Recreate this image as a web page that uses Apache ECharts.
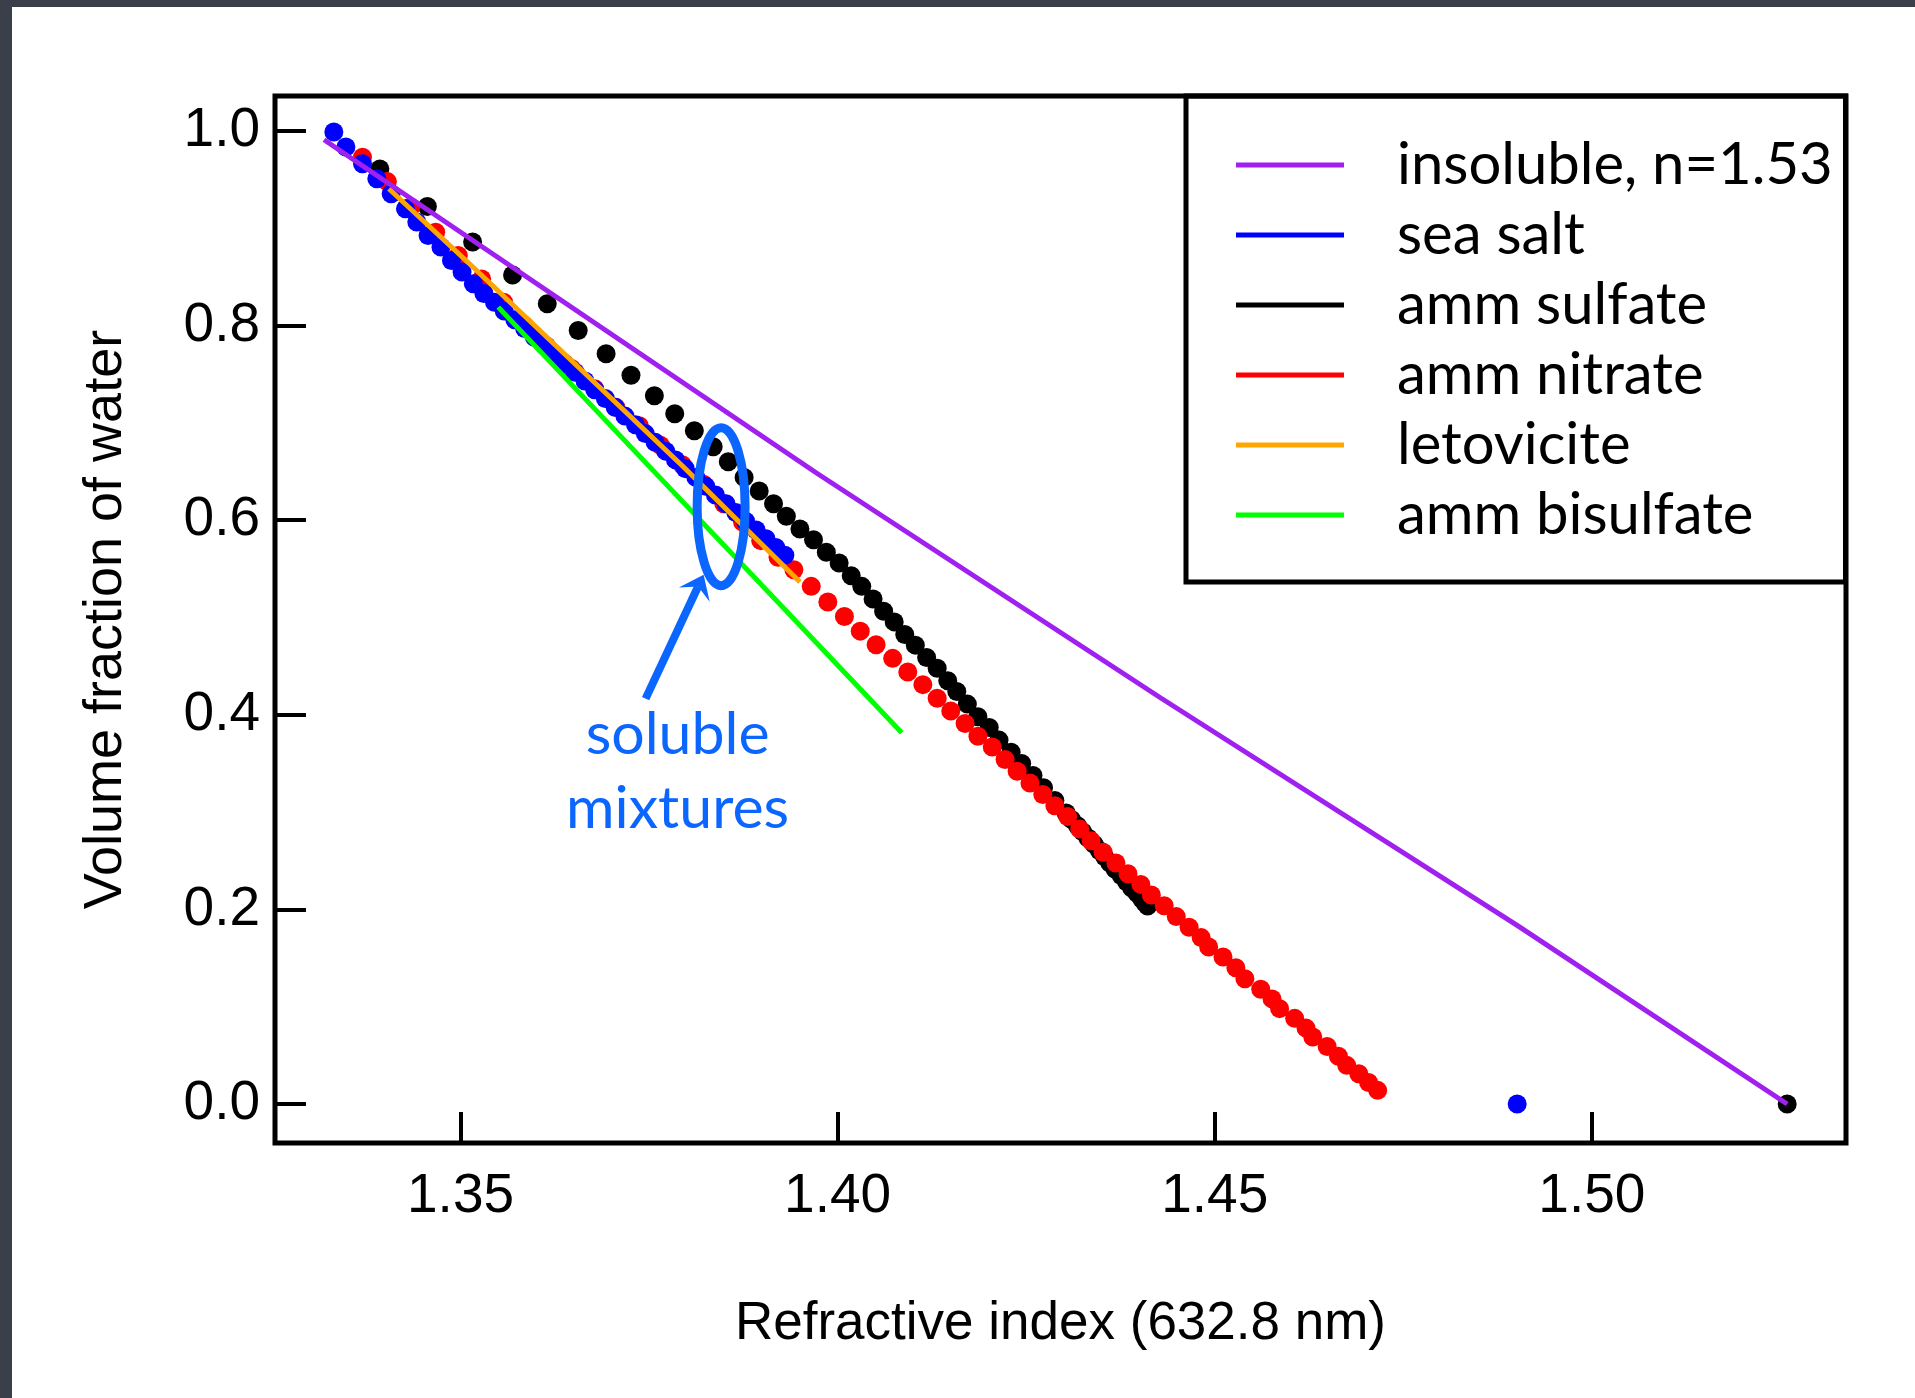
<!DOCTYPE html>
<html>
<head>
<meta charset="utf-8">
<script src="https://cdn.jsdelivr.net/npm/echarts@6/dist/echarts.min.js"></script>
<style>
html, body { margin: 0; padding: 0; width: 1915px; height: 1398px; overflow: hidden; background: #3a3f4a; }
#panel { position: absolute; left: 12px; top: 7px; right: 0; bottom: 0; background: #fff; }
#main { position: absolute; left: 0; top: 0; width: 1915px; height: 1398px; }
</style>
</head>
<body>
<div id="panel"></div>
<div id="main"></div>
<script>
// axis ticks
var xTicks = [1.35, 1.40, 1.45, 1.50];
var yTicks = [0.0, 0.2, 0.4, 0.6, 0.8, 1.0];

// legend order
var names = ['insoluble, n=1.53', 'sea salt', 'amm sulfate', 'amm nitrate', 'letovicite', 'amm bisulfate'];

// [refractive index, volume fraction of water]
var insoluble = [[1.3319, 0.991], [1.3973, 0.648], [1.4429, 0.417], [1.4901, 0.1836], [1.5259, 0.0]];

var seaSalt = [
    [1.3332, 0.999], [1.3348, 0.9835], [1.3370, 0.9664], [1.3389, 0.951], [1.3408, 0.9355],
    [1.3427, 0.920], [1.3442, 0.9065], [1.3457, 0.8927], [1.3474, 0.8808], [1.3488, 0.867],
    [1.3502, 0.855], [1.3517, 0.843], [1.3531, 0.833], [1.3545, 0.824], [1.3558, 0.815],
    [1.3572, 0.806], [1.3585, 0.797], [1.3598, 0.788], [1.3612, 0.779], [1.3625, 0.770],
    [1.3638, 0.761], [1.3652, 0.752], [1.3665, 0.743], [1.3678, 0.734], [1.3692, 0.725],
    [1.3705, 0.716], [1.3718, 0.707], [1.3732, 0.698], [1.3745, 0.689], [1.3758, 0.680],
    [1.3772, 0.671], [1.3785, 0.662], [1.3798, 0.653], [1.3812, 0.644], [1.3825, 0.635],
    [1.3838, 0.626], [1.3852, 0.617], [1.3865, 0.608], [1.3878, 0.599], [1.3892, 0.590],
    [1.3905, 0.581], [1.3918, 0.572], [1.3930, 0.564],
    [1.4901, 0.0]
];

var ammSulfate = [
    [1.3393, 0.961], [1.3456, 0.9225], [1.3516, 0.886], [1.3569, 0.852], [1.3615, 0.8225],
    [1.3656, 0.795], [1.3693, 0.771], [1.3726, 0.749], [1.3757, 0.728], [1.3784, 0.7095],
    [1.3810, 0.692], [1.3835, 0.6755], [1.3855, 0.660], [1.3876, 0.644], [1.3896, 0.630],
    [1.3915, 0.617], [1.3932, 0.604], [1.3950, 0.591], [1.3968, 0.580], [1.3985, 0.567],
    [1.4002, 0.556], [1.4018, 0.543], [1.4032, 0.532], [1.4047, 0.519], [1.4061, 0.5065],
    [1.4075, 0.4955], [1.4089, 0.4826], [1.4103, 0.4716], [1.4118, 0.4588], [1.4132, 0.4478],
    [1.4146, 0.435], [1.4158, 0.424], [1.4172, 0.411], [1.4186, 0.398], [1.4201, 0.387],
    [1.4214, 0.374], [1.4230, 0.3615], [1.4244, 0.350], [1.4259, 0.3376], [1.4273, 0.325],
    [1.4288, 0.312], [1.4303, 0.299], [1.4310, 0.2925], [1.4318, 0.286], [1.4325, 0.2797],
    [1.4332, 0.2734], [1.4340, 0.267], [1.4347, 0.2605], [1.4354, 0.254], [1.4361, 0.2477],
    [1.4368, 0.2412], [1.4376, 0.2348], [1.4383, 0.2284], [1.4390, 0.222], [1.4397, 0.2165],
    [1.4403, 0.211], [1.4407, 0.207], [1.4411, 0.2035],
    [1.5259, 0.0]
];

var ammNitrate = [
    [1.3370, 0.973], [1.3403, 0.948], [1.3434, 0.922], [1.3467, 0.896], [1.3497, 0.872],
    [1.3528, 0.848], [1.3557, 0.824], [1.3585, 0.800], [1.3614, 0.779], [1.3647, 0.756],
    [1.3678, 0.735], [1.3706, 0.716], [1.3737, 0.697], [1.3765, 0.677], [1.3794, 0.657],
    [1.3822, 0.637], [1.3849, 0.617], [1.3874, 0.598], [1.3898, 0.579], [1.3921, 0.562],
    [1.3942, 0.549], [1.3965, 0.532], [1.3987, 0.516], [1.4009, 0.501], [1.4030, 0.486],
    [1.4051, 0.472], [1.4073, 0.458], [1.4093, 0.444], [1.4113, 0.431], [1.4132, 0.417],
    [1.4150, 0.404], [1.4169, 0.391], [1.4186, 0.378], [1.4205, 0.367], [1.4222, 0.354],
    [1.4238, 0.342], [1.4255, 0.330], [1.4272, 0.318], [1.4288, 0.3065], [1.4305, 0.2954],
    [1.4321, 0.2825], [1.4336, 0.2705], [1.4352, 0.2587], [1.4369, 0.2477], [1.4385, 0.2367],
    [1.4402, 0.2257], [1.4416, 0.2147], [1.4433, 0.2037], [1.4449, 0.1926], [1.4466, 0.1816],
    [1.4482, 0.171], [1.4492, 0.1614], [1.4511, 0.151], [1.4528, 0.140], [1.4540, 0.1288],
    [1.4561, 0.118], [1.4576, 0.108], [1.4586, 0.098], [1.4606, 0.088], [1.4621, 0.078],
    [1.4630, 0.0689], [1.4649, 0.059], [1.4664, 0.049], [1.4675, 0.0397], [1.4691, 0.031],
    [1.4704, 0.022], [1.4716, 0.014]
];

var letovicite = [[1.3405, 0.9407], [1.3514, 0.862], [1.3794, 0.656], [1.3950, 0.5365]];
var ammBisulfate = [[1.3550, 0.819], [1.4085, 0.3816]];

// "soluble mixtures" callout, in data units
var ellipseBox = [[1.38137, 0.6951], [1.38773, 0.5327]];
var arrowTail = [1.37454, 0.4166];
var arrowTip = [1.38223, 0.5440];
var noteLines = [['soluble', [1.37878, 0.3796]], ['mixtures', [1.37878, 0.3036]]];

var calloutColor = '#0a66ff';
var axisFont = 'Liberation Sans, Arial, Helvetica, sans-serif';
var legendFont = 'Lato, sans-serif';

var myChart;

function start() {
    myChart = echarts.init(document.getElementById('main'), null, {renderer: 'canvas'});

    var option = {
        backgroundColor: 'transparent',
        animation: false,
        grid: {
            left: 275, top: 96, width: 1571, height: 1047,
            show: true, borderColor: '#000', borderWidth: 5, backgroundColor: 'transparent'
        },
        xAxis: {
            type: 'value',
            min: 1.3254, max: 1.5337,
            name: 'Refractive index (632.8 nm)',
            nameLocation: 'middle',
            nameGap: 155,
            nameTextStyle: {fontFamily: axisFont, fontSize: 53, color: '#000'},
            axisLine: {show: false, onZero: false},
            splitLine: {show: false},
            axisTick: {
                show: true, inside: true, length: 31,
                customValues: xTicks,
                lineStyle: {color: '#000', width: 4}
            },
            axisLabel: {
                customValues: xTicks,
                margin: 26,
                fontFamily: axisFont, fontSize: 55, color: '#000',
                formatter: function (v) { return v.toFixed(2); }
            }
        },
        yAxis: {
            type: 'value',
            min: -0.0401, max: 1.036,
            name: 'Volume fraction of water',
            nameLocation: 'middle',
            nameGap: 142,
            nameRotate: 90,
            nameTextStyle: {fontFamily: axisFont, fontSize: 54, color: '#000'},
            axisLine: {show: false, onZero: false},
            splitLine: {show: false},
            axisTick: {
                show: true, inside: true, length: 31,
                customValues: yTicks,
                lineStyle: {color: '#000', width: 4}
            },
            axisLabel: {
                customValues: yTicks,
                margin: 15,
                fontFamily: axisFont, fontSize: 55, color: '#000',
                formatter: function (v) { return v.toFixed(1); }
            }
        },
        legend: {
            data: names,
            orient: 'vertical',
            left: 1236, top: 131.5,
            padding: 0,
            itemWidth: 108, itemHeight: 5, itemGap: 3,
            icon: 'rect',
            selectedMode: false,
            textStyle: {fontFamily: legendFont, fontSize: 58, color: '#000', lineHeight: 60, padding: [7, 0, 0, 48]}
        },
        series: [
            {
                type: 'scatter', name: 'amm sulfate', data: ammSulfate,
                symbol: 'circle', symbolSize: 19, z: 2, silent: true,
                itemStyle: {color: '#000000', opacity: 1}
            },
            {
                type: 'scatter', name: 'amm nitrate', data: ammNitrate,
                symbol: 'circle', symbolSize: 19, z: 3, silent: true,
                itemStyle: {color: '#ff0000', opacity: 1}
            },
            {
                type: 'scatter', name: 'sea salt', data: seaSalt,
                symbol: 'circle', symbolSize: 19, z: 4, silent: true,
                itemStyle: {color: '#0000ff', opacity: 1}
            },
            {
                type: 'line', name: 'amm bisulfate', data: ammBisulfate,
                symbol: 'none', showSymbol: false, z: 5, silent: true,
                lineStyle: {color: '#00ff00', width: 5},
                itemStyle: {color: '#00ff00'}
            },
            {
                type: 'line', name: 'letovicite', data: letovicite,
                symbol: 'none', showSymbol: false, z: 6, silent: true,
                lineStyle: {color: '#ffa500', width: 5},
                itemStyle: {color: '#ffa500'}
            },
            {
                type: 'line', name: 'insoluble, n=1.53', data: insoluble,
                symbol: 'none', showSymbol: false, z: 7, silent: true,
                lineStyle: {color: '#a020f0', width: 5},
                itemStyle: {color: '#a020f0'}
            }
        ]
    };
    myChart.setOption(option);

    // callout + legend frame
    var toPx = function (pt) { return myChart.convertToPixel({gridIndex: 0}, pt); };
    var a = toPx(ellipseBox[0]), b = toPx(ellipseBox[1]);
    var tail = toPx(arrowTail), tip = toPx(arrowTip);
    var dx = tip[0] - tail[0], dy = tip[1] - tail[1];
    var len = Math.sqrt(dx * dx + dy * dy);
    var ux = dx / len, uy = dy / len, nx = -uy, ny = ux;
    var headLen = 22, headHalf = 17, notch = 13;
    var graphic = [
        {
            type: 'rect', z: 10, silent: true,
            shape: {x: 1186, y: 96, width: 1845.5 - 1186, height: 582 - 96},
            style: {fill: 'none', stroke: '#000', lineWidth: 5}
        },
        {
            type: 'ellipse', z: 20, silent: true,
            shape: {cx: (a[0] + b[0]) / 2, cy: (a[1] + b[1]) / 2, rx: Math.abs(b[0] - a[0]) / 2, ry: Math.abs(b[1] - a[1]) / 2},
            style: {fill: 'none', stroke: calloutColor, lineWidth: 9}
        },
        {
            type: 'line', z: 20, silent: true,
            shape: {x1: tail[0], y1: tail[1], x2: tip[0] - ux * notch, y2: tip[1] - uy * notch},
            style: {stroke: calloutColor, lineWidth: 8}
        },
        {
            type: 'polygon', z: 20, silent: true,
            shape: {
                points: [
                    [tip[0], tip[1]],
                    [tip[0] - ux * headLen + nx * headHalf, tip[1] - uy * headLen + ny * headHalf],
                    [tip[0] - ux * notch, tip[1] - uy * notch],
                    [tip[0] - ux * headLen - nx * headHalf, tip[1] - uy * headLen - ny * headHalf]
                ]
            },
            style: {fill: calloutColor}
        }
    ];
    for (var i = 0; i < noteLines.length; i++) {
        var p = toPx(noteLines[i][1]);
        graphic.push({
            type: 'text', z: 20, silent: true,
            x: p[0], y: p[1],
            style: {
                text: noteLines[i][0],
                fill: calloutColor,
                font: '59px Lato, sans-serif',
                align: 'center',
                verticalAlign: 'middle'
            }
        });
    }
    myChart.setOption({graphic: graphic});
}

start();
</script>
</body>
</html>
